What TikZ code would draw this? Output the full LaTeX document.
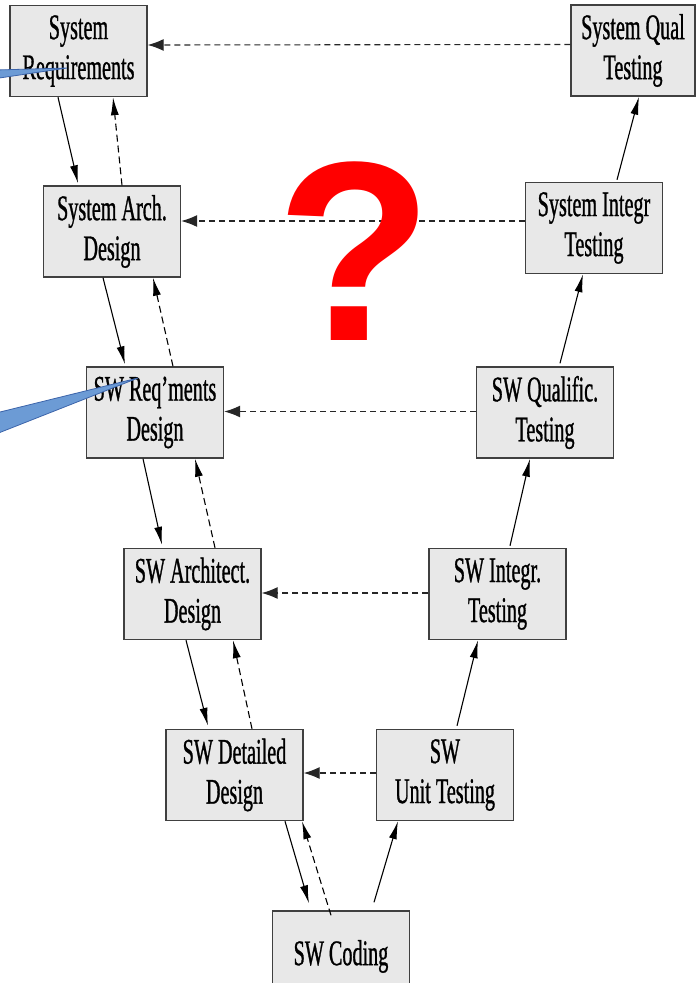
\documentclass[tikz,border=0pt]{standalone}
\usepackage{fontspec}
\setmainfont{Liberation Serif}[FakeStretch=0.56,FakeBold=0.8]
\newfontfamily\markfont{Liberation Sans}
\usetikzlibrary{arrows.meta}
\definecolor{calloutfill}{RGB}{108,155,213}
\definecolor{calloutedge}{RGB}{60,100,170}
\definecolor{boxfill}{RGB}{232,232,232}
\begin{document}
\begin{tikzpicture}[x=1pt,y=-1pt,
  phase/.style={draw=black!75, line width=1.4pt, fill=boxfill,
    minimum width=137pt, minimum height=91pt, inner sep=2pt, align=center,
    font=\fontsize{36}{40}\selectfont},
  flow/.style={line width=1.1pt, -{Latex[length=18pt,width=8pt]}},
  back/.style={flow, dash pattern=on 7pt off 4pt},
  trace/.style={draw=black!85, line width=1.1pt, dash pattern=on 6pt off 4pt,
    -{Latex[length=16pt,width=12pt]}},
  callout/.style={fill=calloutfill, draw=calloutedge, line width=0.8pt}]
\useasboundingbox (0,0) rectangle (700,983);

% left leg: development phases
\node[phase] (sr)  at (78.5,51)   {System\\Requirements};
\node[phase] (sa)  at (112,231.5) {System Arch.\\Design};
\node[phase] (swr) at (155,412.5) {SW Req'ments\\Design};
\node[phase] (swa) at (192.5,594) {SW Architect.\\Design};
\node[phase] (swd) at (234.5,775) {SW Detailed\\Design};
\node[phase] (swc) at (341,956.5) {SW Coding};

% right leg: testing phases
\node[phase] (swu) at (445,775)   {SW\\Unit Testing};
\node[phase] (swi) at (497.5,594) {SW Integr.\\Testing};
\node[phase] (swq) at (545,412.5) {SW Qualific.\\Testing};
\node[phase] (si)  at (594,228)   {System Integr\\Testing};
\node[phase, minimum width=124pt] (sq) at (633,50.5) {System Qual\\Testing};

% going down, with feedback going back up
\draw[flow] ([xshift=-20.5pt]sr.south) -- ([xshift=-34pt,yshift=2pt]sa.north);
\draw[back] ([xshift=10pt]sa.north) -- ([xshift=34.5pt]sr.south);
\draw[flow] ([xshift=-9pt]sa.south) -- ([xshift=-30pt,yshift=2pt]swr.north);
\draw[back] ([xshift=18pt]swr.north) -- ([xshift=41pt]sa.south);
\draw[flow] ([xshift=-12pt]swr.south) -- ([xshift=-30.5pt,yshift=3pt]swa.north);
\draw[back] ([xshift=22.5pt]swa.north) -- ([xshift=40pt]swr.south);
\draw[flow] ([xshift=-6.5pt]swa.south) -- ([xshift=-26.5pt,yshift=3pt]swd.north);
\draw[back] ([xshift=17.5pt]swd.north) -- ([xshift=40.5pt]swa.south);
\draw[flow] ([xshift=50.5pt]swd.south) -- ([xshift=-32pt,yshift=7pt]swc.north);
\draw[back] ([xshift=-10pt,yshift=-5pt]swc.north) -- ([xshift=67.5pt]swd.south);

% going up the testing leg
\draw[flow] ([xshift=33pt,yshift=8pt]swc.north) -- ([xshift=-47pt]swu.south);
\draw[flow] ([xshift=12pt,yshift=3pt]swu.north) -- ([xshift=-19.5pt]swi.south);
\draw[flow] ([xshift=12.5pt,yshift=2pt]swi.north) -- ([xshift=-15pt]swq.south);
\draw[flow] ([xshift=15pt,yshift=3pt]swq.north) -- ([xshift=-11pt]si.south);
\draw[flow] ([xshift=23pt,yshift=2pt]si.north) -- ([xshift=6pt]sq.south);

% traceability between the legs
\draw[trace] ([yshift=6pt]sq.west) -- ([yshift=6pt]sr.east);
\draw[trace] ([yshift=7pt]si.west) -- ([yshift=10.5pt]sa.east);
\draw[trace] ([yshift=1pt]swq.west) -- ([yshift=1pt]swr.east);
\draw[trace] ([yshift=1pt]swi.west) -- ([yshift=1pt]swa.east);
\draw[trace] ([yshift=2pt]swu.west) -- ([yshift=2pt]swd.east);

% question mark
\node[text=red, inner sep=0pt, anchor=base,
  font=\markfont\bfseries\fontsize{256}{256}\selectfont] (qm) at (355,340) {?};

% callout pointers
\path[callout] (-4,70) -- (67,68) -- (-4,78.5) -- cycle;
\path[callout] (-4,413) -- (138,378) -- (-4,434) -- cycle;
\end{tikzpicture}
\end{document}
